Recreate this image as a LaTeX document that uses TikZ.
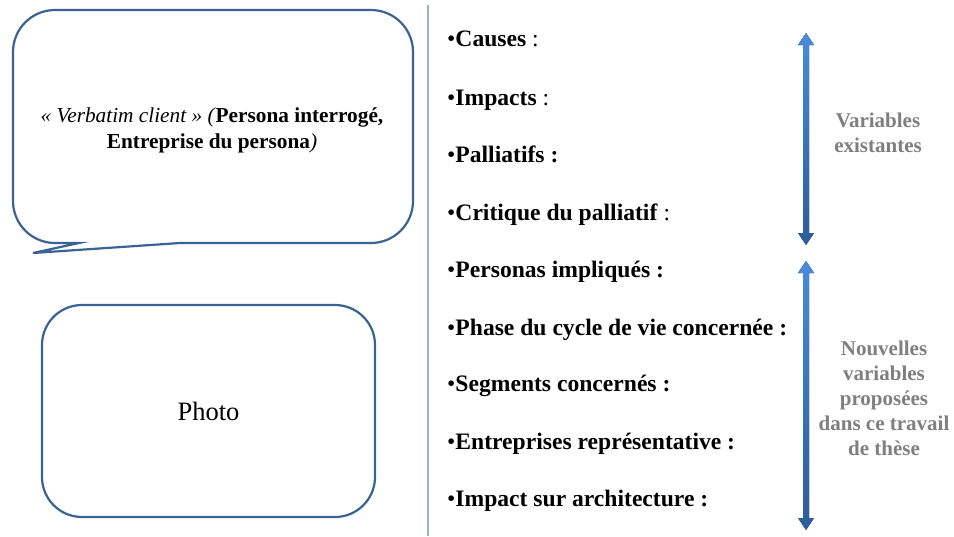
\documentclass[tikz,border=0pt]{standalone}
\usepackage{fontspec}
\setmainfont{Liberation Serif}
\definecolor{boxblue}{HTML}{3A6394}
\definecolor{sepblue}{HTML}{95B3D7}
\definecolor{arrtop}{HTML}{4A8BDA}
\definecolor{arrbot}{HTML}{2C5D98}
\definecolor{labgray}{HTML}{7F7F7F}
\tikzset{
  x=1pt,y=-1pt,
  outline/.style={draw=boxblue,line width=2.2pt},
  item/.style={anchor=base west,inner sep=0pt,font=\fontsize{23.6}{28}\selectfont},
  sidelabel/.style={align=center,inner sep=0pt,text=labgray,font=\fontsize{21}{25}\selectfont\bfseries},
  dblarrow/.style={top color=arrtop,bottom color=arrbot,draw=none}
}
\newcommand\mydblarrow[3]{%
  \fill[dblarrow] (#1,#2) -- (#1+8,#2+12) -- (#1+3,#2+12) -- (#1+3,#3-12) -- (#1+8,#3-12) -- (#1,#3)
    -- (#1-8,#3-12) -- (#1-3,#3-12) -- (#1-3,#2+12) -- (#1-8,#2+12) -- cycle;}
\begin{document}
\begin{tikzpicture}
\useasboundingbox (0,0) rectangle (954,536);
% speech bubble
\draw[outline,line join=miter] (79,243) -- (55,243) arc[start angle=90,end angle=180,radius=42]
  -- (13,52) arc[start angle=180,end angle=270,radius=42]
  -- (371,10) arc[start angle=270,end angle=360,radius=42]
  -- (413,201) arc[start angle=0,end angle=90,radius=42]
  -- (180,243) -- (33,253) -- cycle;
\node[align=center,inner sep=0pt,font=\fontsize{21.3}{26}\selectfont] (verbatim) at (212,130)
  {\textit{« Verbatim client » (}\textbf{Persona interrogé,}\\\textbf{Entreprise du persona}\textit{)}};
% photo box
\node[outline,rounded corners=40pt,minimum width=333pt,minimum height=212pt,
  font=\fontsize{26.5}{30}\selectfont] (photo) at (208.5,411) {Photo};
% separator
\draw[sepblue,line width=1.2pt] (428,5) -- (428,536);
% items
\node[item] (i1) at (447,46) {•\textbf{Causes} :};
\node[item] (i2) at (447,105) {•\textbf{Impacts} :};
\node[item] (i3) at (447,162) {•\textbf{Palliatifs :}};
\node[item] (i4) at (447,220) {•\textbf{Critique du palliatif} :};
\node[item] (i5) at (447,277) {•\textbf{Personas impliqués :}};
\node[item] (i6) at (447,335) {•\textbf{Phase du cycle de vie concernée :}};
\node[item] (i7) at (447,391) {•\textbf{Segments concernés :}};
\node[item] (i8) at (447,449) {•\textbf{Entreprises représentative :}};
\node[item] (i9) at (447,506) {•\textbf{Impact sur architecture :}};
% arrows
\mydblarrow{806}{33}{245}
\mydblarrow{806}{261}{530}
% side labels
\node[sidelabel] (exist) at (878,133) {Variables\\existantes};
\node[sidelabel] (nouv) at (884,398) {Nouvelles\\variables\\proposées\\dans ce travail\\de thèse};
\end{tikzpicture}
\end{document}
